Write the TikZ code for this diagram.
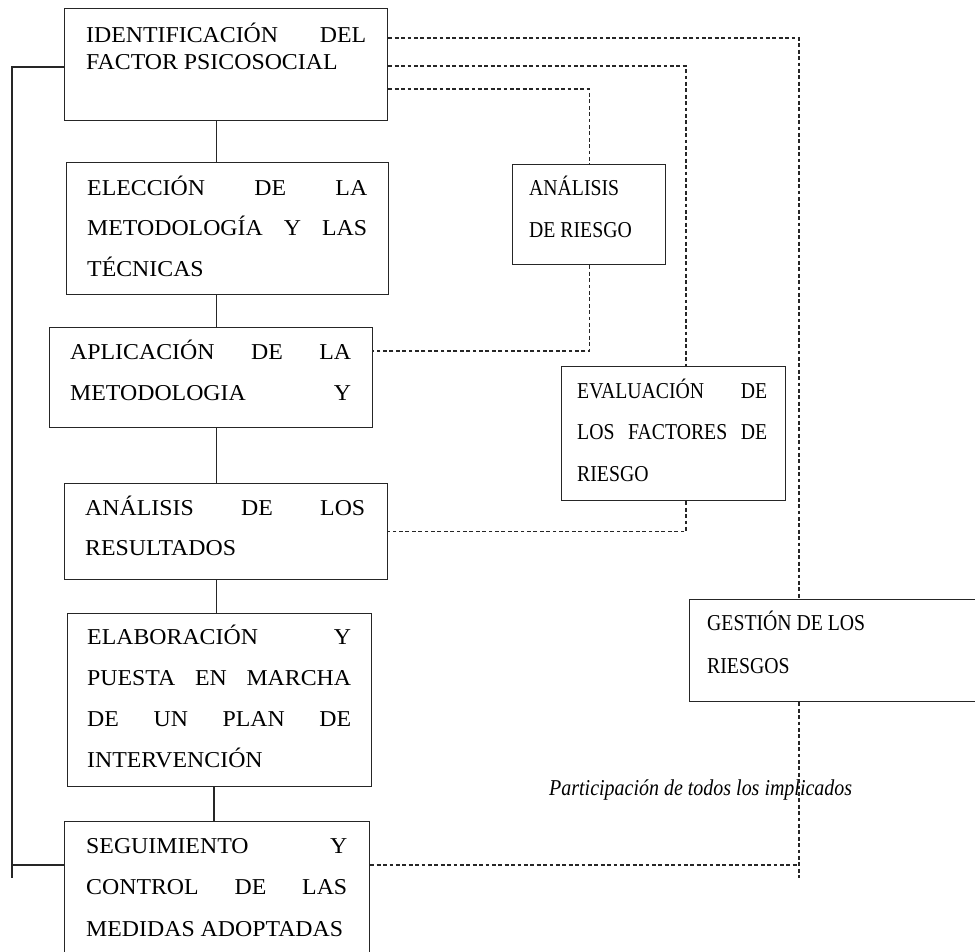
\documentclass[tikz,border=0pt]{standalone}
\usepackage{fontspec}
\usepackage{graphicx}
\setmainfont{Liberation Serif}

% one justified line (words separated by \hfill) and one natural line
\newcommand\jline[1]{\hbox to\linewidth{#1}}
\newcommand\nline[1]{\hbox{#1}}
% text block: horizontal scale, inner width, line spacing, lines
\newcommand\txtblock[4]{\scalebox{#1}[1]{\parbox[t]{#2}{\fontsize{22.7}{#3}\selectfont #4}}}

\begin{document}
\begin{tikzpicture}[x=1pt,y=-1pt,
  boxst/.style={draw=black!85, rectangle, line width=1.3pt, inner sep=0pt, anchor=north west},
  txt/.style={inner sep=0pt, anchor=base west},
  solidline/.style={draw=black!85, line width=1.3pt},
  dashline/.style={draw=black!85, line width=1.1pt, dash pattern=on 3.8pt off 2.6pt}]
\useasboundingbox (0,0) rectangle (975,951);
\clip (0,0) rectangle (975,951);

% ---- boxes of the main sequence ----
\node[boxst, minimum width=323pt, minimum height=112pt] (b1) at (64,8) {};
\node[boxst, minimum width=322pt, minimum height=132pt] (b2) at (66,162) {};
\node[boxst, minimum width=323pt, minimum height=100pt] (b3) at (49,327) {};
\node[boxst, minimum width=323pt, minimum height=96pt]  (b4) at (64,483) {};
\node[boxst, minimum width=304pt, minimum height=173pt] (b5) at (67,613) {};
\node[boxst, minimum width=305pt, minimum height=160pt] (b6) at (64,821) {};

% ---- boxes of the risk branch ----
\node[boxst, minimum width=153pt, minimum height=100pt] (ar) at (512,164) {};
\node[boxst, minimum width=224pt, minimum height=134pt] (ev) at (561,366) {};
\node[boxst, minimum width=300pt, minimum height=102pt] (g)  at (689,599) {};

% ---- box texts ----
\node[txt] (t1) at (86,42) {\txtblock{1.05}{266.7pt}{27}{%
  \jline{IDENTIFICACIÓN\hfill DEL}
  \nline{FACTOR PSICOSOCIAL}}};
\node[txt] (t2) at (87,195) {\txtblock{1.05}{266.7pt}{40.5}{%
  \jline{ELECCIÓN\hfill DE\hfill LA}
  \jline{METODOLOGÍA\hfill Y\hfill LAS}
  \nline{TÉCNICAS}}};
\node[txt] (t3) at (70,359) {\txtblock{1.05}{267.6pt}{41}{%
  \jline{APLICACIÓN\hfill DE\hfill LA}
  \jline{METODOLOGIA\hfill Y}}};
\node[txt] (t4) at (85,515) {\txtblock{1.05}{266.7pt}{40}{%
  \jline{ANÁLISIS\hfill DE\hfill LOS}
  \nline{RESULTADOS}}};
\node[txt] (t5) at (87,644) {\txtblock{1.05}{251.4pt}{41.3}{%
  \jline{ELABORACIÓN\hfill Y}
  \jline{PUESTA\hfill EN\hfill MARCHA}
  \jline{DE\hfill UN\hfill PLAN\hfill DE}
  \nline{INTERVENCIÓN}}};
\node[txt] (t6) at (86,853) {\txtblock{1.05}{248.6pt}{41.5}{%
  \jline{SEGUIMIENTO\hfill Y}
  \jline{CONTROL\hfill DE\hfill LAS}
  \nline{MEDIDAS ADOPTADAS}}};

\node[txt] (tar) at (529,195) {\txtblock{0.87}{150pt}{42}{%
  \nline{ANÁLISIS}
  \nline{DE RIESGO}}};
\node[txt] (tev) at (577,398) {\txtblock{0.87}{218.4pt}{41.5}{%
  \jline{EVALUACIÓN\hfill DE}
  \jline{LOS\hfill FACTORES\hfill DE}
  \nline{RIESGO}}};
\node[txt] (tg) at (707,630) {\txtblock{0.87}{300pt}{43}{%
  \nline{GESTIÓN DE LOS}
  \nline{RIESGOS}}};

\node[txt] (lab) at (549,795) {\scalebox{0.88}[1]{\fontsize{22.7}{27}\selectfont\itshape Participación de todos los implicados}};

% ---- solid connectors of the sequence ----
\coordinate (spine) at (216.5,0);
\coordinate (spine2) at (214,0);
\draw[solidline] (b1.south -| spine) -- (b2.north -| spine);
\draw[solidline] (b2.south -| spine) -- (b3.north -| spine);
\draw[solidline] (b3.south -| spine) -- (b4.north -| spine);
\draw[solidline] (b4.south -| spine) -- (b5.north -| spine);
\draw[solidline] (b5.south -| spine2) -- (b6.north -| spine2);

% feedback line on the left
\coordinate (fbTop) at (12,67);
\coordinate (fbJoin) at (12,865);
\coordinate (fbEnd) at (12,878);
\draw[solidline] (fbTop -| b1.west) -- (fbTop) -- (fbEnd);
\draw[solidline] (fbJoin) -- (fbJoin -| b6.west);

% ---- dashed links ----
\coordinate (cR) at (799,38);
\coordinate (cM) at (686,66);
\coordinate (cL) at (0,89);
\coordinate (cA) at (0,351);
\coordinate (cS) at (0,865);
\coordinate (cEnd) at (799,878);

\draw[dashline] (cR -| b1.east) -- (cR) -- (cR |- g.north);
\draw[dashline] (cM -| b1.east) -- (cM) -- (cM |- ev.north);
\draw[dashline] (cL -| b1.east) -| (ar.north);
\draw[dashline] (ar.south) |- (cA -| b3.east);
\draw[dashline] (cM |- ev.south) |- (b4.east);
\draw[dashline] (cR |- g.south) -- (cEnd);
\draw[dashline] (cS -| b6.east) -- (cS -| cR);
\end{tikzpicture}
\end{document}
